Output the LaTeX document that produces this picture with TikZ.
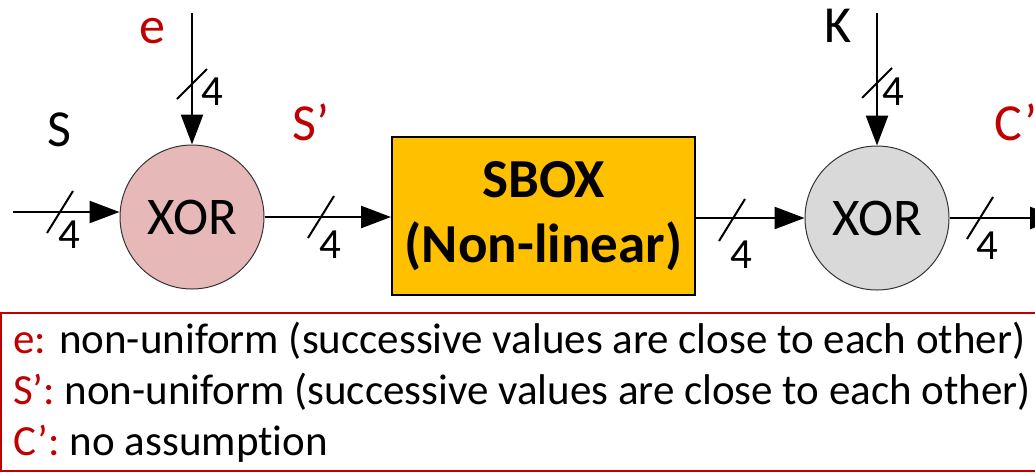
\documentclass[tikz,border=0pt]{standalone}
\usepackage{fontspec}
\setmainfont{Carlito}[Ligatures={TeX,NoCommon}]
\usetikzlibrary{arrows.meta}

\definecolor{darkred}{HTML}{C00000}
\definecolor{xorpink}{HTML}{E6B9B8}
\definecolor{xorgrey}{HTML}{D9D9D9}
\definecolor{sboxgold}{HTML}{FFC000}

\tikzset{
	xor/.style={circle, draw=black!80, line width=1pt, minimum size=144pt, inner sep=0pt, font=\fontsize{53}{60}\selectfont},
	sbox/.style={rectangle, draw=black, line width=2pt, fill=sboxgold, minimum width=303pt, minimum height=158pt, align=center, font=\fontsize{55}{65}\selectfont\bfseries},
	wire/.style={line width=2.5pt, -{Triangle[length=30pt, width=22pt]}},
	bus/.style={line width=2pt},
	buswidth/.style={font=\fontsize{43}{50}\selectfont, inner sep=0pt},
	sig/.style={font=\fontsize{52}{60}\selectfont, inner sep=0pt},
	note/.style={anchor=base west, inner sep=0pt, font=\fontsize{43}{50}\selectfont},
	legend/.style={draw=darkred, line width=2pt},
}

\begin{document}
\begin{tikzpicture}[x=1pt, y=-1pt]
\useasboundingbox (0, 0) rectangle (1035, 472);

\node [style=xor, fill=xorpink] (0) at (192, 217) {XOR};
\node [style=sbox] (1) at (543.5, 216) {SBOX\\(Non-linear)};
\node [style=xor, fill=xorgrey] (2) at (877, 218) {XOR};

\node [] (3) at (13, 212) {};
\node [] (4) at (192, 13) {};
\node [] (5) at (877, 13) {};
\node [] (6) at (1060, 218) {};

\draw [style=wire] (3.center) to (3 -| 0.west);
\draw [style=wire] (4.center) to (0.north);
\draw [style=wire] (0.east) to (0.east -| 1.west);
\draw [style=wire] (1.east |- 2.west) to (2.west);
\draw [style=wire] (5.center) to (2.north);
\draw [style=wire] (2.east) to (6.center);

\node [] (7) at (47, 233) {};
\node [] (8) at (73, 191) {};
\node [] (9) at (177, 99) {};
\node [] (10) at (207, 69) {};
\node [] (11) at (308, 238) {};
\node [] (12) at (334, 196) {};
\node [] (13) at (719, 241) {};
\node [] (14) at (745, 199) {};
\node [] (15) at (862, 98) {};
\node [] (16) at (892, 68) {};
\node [] (17) at (967, 239) {};
\node [] (18) at (993, 197) {};

\draw [style=bus] (7.center) to (8.center);
\draw [style=bus] (9.center) to (10.center);
\draw [style=bus] (11.center) to (12.center);
\draw [style=bus] (13.center) to (14.center);
\draw [style=bus] (15.center) to (16.center);
\draw [style=bus] (17.center) to (18.center);

\node [style=buswidth] (19) at (69, 235) {4};
\node [style=buswidth] (20) at (212, 92) {4};
\node [style=buswidth] (21) at (330, 245) {4};
\node [style=buswidth] (22) at (741, 255) {4};
\node [style=buswidth] (23) at (893, 92) {4};
\node [style=buswidth] (24) at (987, 246) {4};

\node [style=sig] (25) at (59, 130) {S};
\node [style=sig, text=darkred] (26) at (152, 31) {e};
\node [style=sig, text=darkred] (27) at (311, 122) {S’};
\node [style=sig] (28) at (838, 26) {K};
\node [style=sig, text=darkred, anchor=west] (29) at (994, 122) {C’};

\draw [style=legend] (1, 313) rectangle (1100, 471);
\node [style=note] (30) at (13, 353) {\textcolor{darkred}{e:} non-uniform (successive values are close to each other)};
\node [style=note] (31) at (13, 404) {\textcolor{darkred}{S’:} non-uniform (successive values are close to each other)};
\node [style=note] (32) at (13, 455) {\textcolor{darkred}{C’:} no assumption};
\end{tikzpicture}
\end{document}
